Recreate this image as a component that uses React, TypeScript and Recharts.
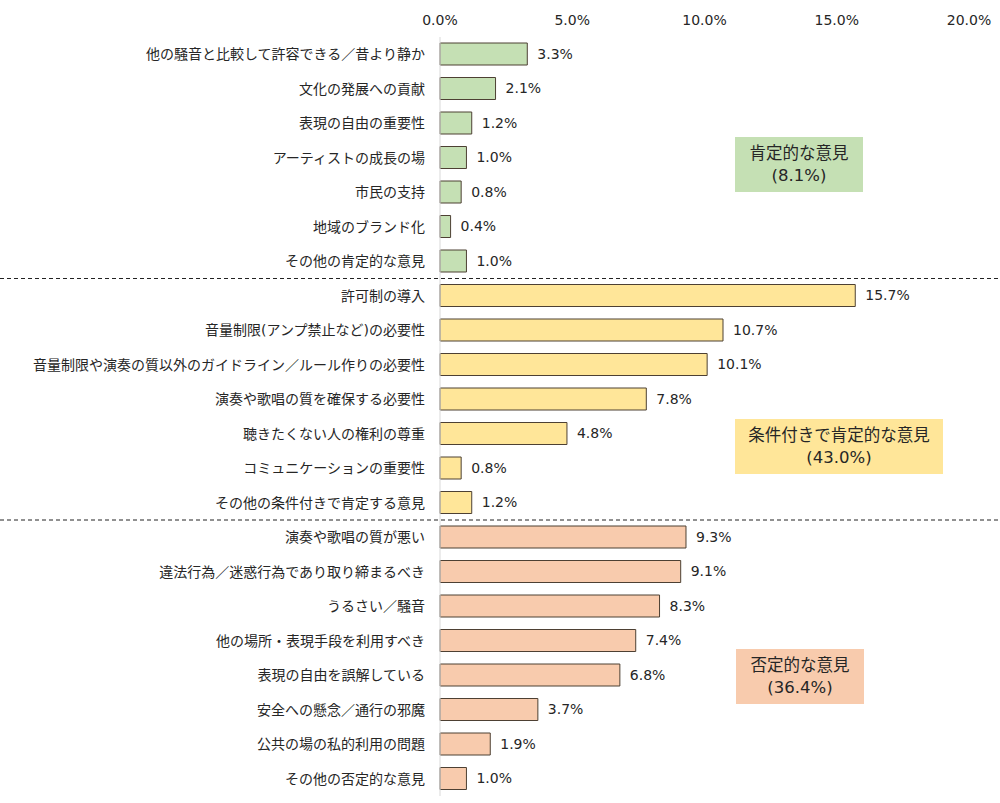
import { Bar, BarChart, Cell, LabelList, ReferenceLine, XAxis, YAxis } from 'recharts';

const positiveLabels = [
  '他の騒音と比較して許容できる／昔より静か',
  '文化の発展への貢献',
  '表現の自由の重要性',
  'アーティストの成長の場',
  '市民の支持',
  '地域のブランド化',
  'その他の肯定的な意見',
];
const positiveValues = [3.3, 2.1, 1.2, 1.0, 0.8, 0.4, 1.0];

const conditionalLabels = [
  '許可制の導入',
  '音量制限(アンプ禁止など)の必要性',
  '音量制限や演奏の質以外のガイドライン／ルール作りの必要性',
  '演奏や歌唱の質を確保する必要性',
  '聴きたくない人の権利の尊重',
  'コミュニケーションの重要性',
  'その他の条件付きで肯定する意見',
];
const conditionalValues = [15.7, 10.7, 10.1, 7.8, 4.8, 0.8, 1.2];

const negativeLabels = [
  '演奏や歌唱の質が悪い',
  '違法行為／迷惑行為であり取り締まるべき',
  'うるさい／騒音',
  '他の場所・表現手段を利用すべき',
  '表現の自由を誤解している',
  '安全への懸念／通行の邪魔',
  '公共の場の私的利用の問題',
  'その他の否定的な意見',
];
const negativeValues = [9.3, 9.1, 8.3, 7.4, 6.8, 3.7, 1.9, 1.0];

const xTicks = [0, 5, 10, 15, 20];

const groups = [
  { labels: positiveLabels, values: positiveValues, color: '#c5e0b4', title: '肯定的な意見', total: '(8.1%)' },
  { labels: conditionalLabels, values: conditionalValues, color: '#ffe699', title: '条件付きで肯定的な意見', total: '(43.0%)' },
  { labels: negativeLabels, values: negativeValues, color: '#f8cbad', title: '否定的な意見', total: '(36.4%)' },
];

const rows = groups.flatMap((g) => g.labels.map((name, i) => ({ name, value: g.values[i], color: g.color })));

const font = '"DejaVu Sans", "Noto Sans CJK JP", sans-serif';
const ink = '#262626';

const dashedShape = (props: any) => (
  <line x1={0} x2={1000} y1={props.y1} y2={props.y2} stroke="#222" strokeWidth={1} strokeDasharray="4 3" />
);

function NoteBox({ left, top, width, color, title, total }: { left: number; top: number; width: number; color: string; title: string; total: string }) {
  return (
    <div
      style={{
        position: 'absolute',
        left,
        top,
        width,
        height: 55,
        background: color,
        display: 'flex',
        flexDirection: 'column',
        alignItems: 'center',
        justifyContent: 'center',
        fontFamily: font,
        fontSize: 16.5,
        lineHeight: '22px',
        color: ink,
      }}
    >
      <div>{title}</div>
      <div>{total}</div>
    </div>
  );
}

export default function App() {
  return (
    <div style={{ position: 'absolute', left: 0, top: 0, width: 1000, height: 803, background: '#fff' }}>
      <BarChart
        width={1000}
        height={803}
        data={rows}
        layout="vertical"
        margin={{ top: 0, right: 31, bottom: 7, left: 0 }}
        barSize={22}
      >
        <XAxis
          type="number"
          orientation="top"
          domain={[0, 20]}
          ticks={xTicks}
          tickFormatter={(v) => `${Number(v).toFixed(1)}%`}
          axisLine={false}
          tickLine={false}
          height={37}
          tickSize={0}
          tickMargin={12}
          tick={{ fill: ink, fontSize: 14, fontFamily: font }}
        />
        <YAxis
          type="category"
          dataKey="name"
          width={440}
          interval={0}
          axisLine={{ stroke: '#d9d9d9' }}
          tickLine={false}
          tickSize={0}
          tickMargin={15}
          tick={{ fill: ink, fontSize: 14, fontFamily: font }}
        />
        <ReferenceLine y={conditionalLabels[0]} position="start" ifOverflow="visible" shape={dashedShape} />
        <ReferenceLine y={negativeLabels[0]} position="start" ifOverflow="visible" shape={dashedShape} />
        <Bar dataKey="value" stroke="#4d4033" strokeWidth={1} isAnimationActive={false}>
          {rows.map((r) => (
            <Cell key={r.name} fill={r.color} />
          ))}
          <LabelList
            dataKey="value"
            position="right"
            offset={10}
            formatter={(v: any) => `${Number(v).toFixed(1)}%`}
            style={{ fill: ink, fontSize: 14, fontFamily: font }}
          />
        </Bar>
      </BarChart>
      <NoteBox left={735} top={137} width={128} color={groups[0].color} title={groups[0].title} total={groups[0].total} />
      <NoteBox left={735} top={419} width={208} color={groups[1].color} title={groups[1].title} total={groups[1].total} />
      <NoteBox left={736} top={649} width={128} color={groups[2].color} title={groups[2].title} total={groups[2].total} />
    </div>
  );
}
